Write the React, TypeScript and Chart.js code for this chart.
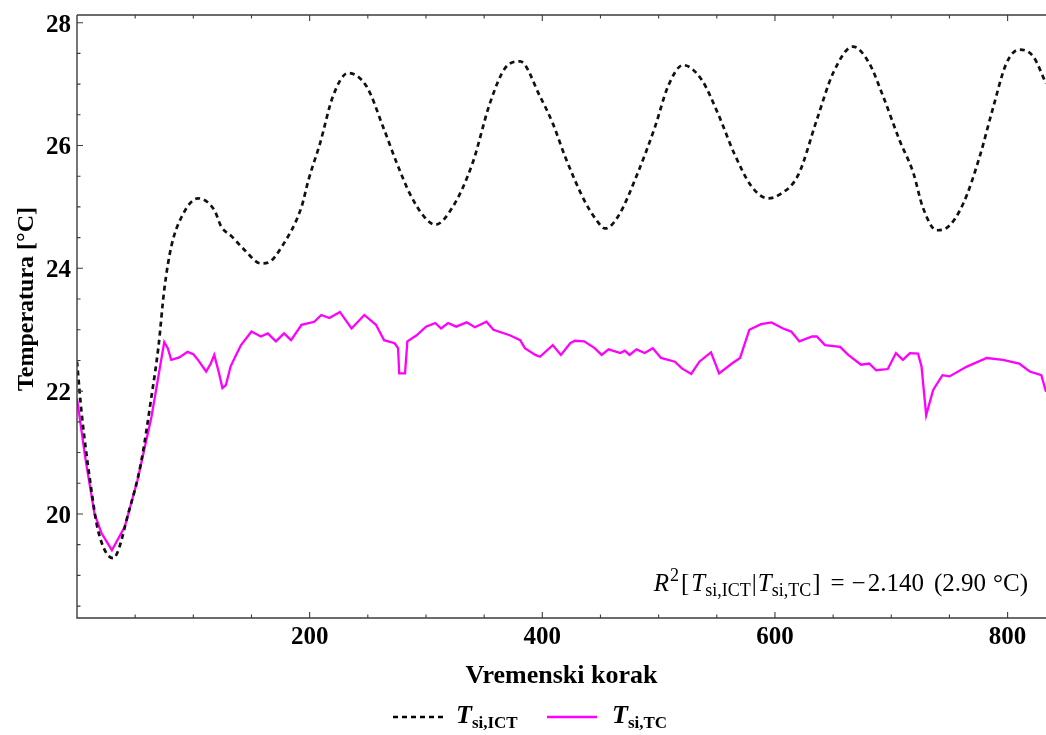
import React, { useEffect, useRef } from 'react';
import { Chart, registerables } from 'chart.js';

Chart.register(...registerables);

// ---- data ----
const ictSteps = [0, 4, 12, 18, 31, 45, 55, 64, 70, 75, 81, 90, 104, 118, 124, 133, 144, 158, 165, 176, 193, 199, 209, 220, 233, 249, 263, 275, 286, 298, 308, 323, 340, 355, 368, 381, 398, 409, 420, 436, 446, 454, 465, 482, 497, 508, 521, 537, 551, 565, 580, 594, 603, 620, 636, 650, 667, 681, 693, 707, 719, 727, 739, 747, 762, 776, 787, 799, 810, 822, 833];
const ictTemps = [22.48, 21.64, 20.44, 19.74, 19.28, 20.07, 20.83, 21.91, 22.72, 23.65, 24.35, 24.84, 25.14, 24.95, 24.68, 24.52, 24.3, 24.08, 24.1, 24.35, 25.0, 25.44, 26.04, 26.8, 27.18, 26.96, 26.31, 25.71, 25.22, 24.85, 24.71, 25.0, 25.71, 26.69, 27.26, 27.37, 26.8, 26.36, 25.8, 25.11, 24.8, 24.65, 24.84, 25.55, 26.31, 26.96, 27.31, 27.07, 26.52, 25.87, 25.33, 25.14, 25.19, 25.52, 26.42, 27.18, 27.61, 27.34, 26.8, 26.09, 25.55, 25.0, 24.62, 24.65, 25.06, 25.82, 26.58, 27.34, 27.56, 27.45, 27.01];

const tcSteps = [0, 7, 15, 21, 30, 41, 52, 64, 75, 78, 81, 88, 95, 100, 104, 111, 115, 118, 122, 125, 128, 132, 136, 141, 150, 158, 164, 171, 178, 184, 193, 204, 210, 217, 226, 236, 247, 257, 264, 273, 276, 277, 282, 284, 292, 300, 308, 313, 319, 326, 335, 342, 352, 358, 372, 381, 385, 394, 398, 409, 416, 424, 428, 436, 445, 451, 457, 467, 471, 475, 481, 488, 495, 502, 514, 520, 528, 535, 545, 552, 563, 570, 578, 588, 597, 607, 614, 621, 632, 636, 643, 656, 663, 674, 681, 687, 697, 704, 710, 716, 723, 726, 730, 736, 744, 750, 765, 782, 796, 810, 819, 829, 833];
const tcTemps = [21.88, 20.93, 20.01, 19.69, 19.41, 19.79, 20.55, 21.58, 22.8, 22.7, 22.51, 22.55, 22.64, 22.6, 22.51, 22.32, 22.45, 22.59, 22.3, 22.05, 22.1, 22.4, 22.56, 22.75, 22.97, 22.89, 22.94, 22.81, 22.94, 22.83, 23.08, 23.13, 23.24, 23.19, 23.29, 23.02, 23.24, 23.08, 22.83, 22.78, 22.7, 22.29, 22.29, 22.81, 22.91, 23.05, 23.11, 23.02, 23.11, 23.05, 23.12, 23.04, 23.13, 23.0, 22.91, 22.83, 22.7, 22.59, 22.56, 22.75, 22.59, 22.78, 22.82, 22.81, 22.7, 22.59, 22.68, 22.62, 22.66, 22.59, 22.68, 22.62, 22.7, 22.54, 22.48, 22.37, 22.28, 22.48, 22.63, 22.29, 22.45, 22.54, 23.0, 23.09, 23.12, 23.02, 22.97, 22.81, 22.89, 22.89, 22.75, 22.72, 22.59, 22.43, 22.45, 22.34, 22.36, 22.62, 22.51, 22.62, 22.61, 22.4, 21.61, 22.02, 22.26, 22.24, 22.4, 22.54, 22.51, 22.45, 22.32, 22.26, 21.99];

const xRange = [0, 833];
const yRange = [18.306, 28.125];
const xTickValues = [200, 400, 600, 800];
const yTickValues = [20, 22, 24, 26, 28];
const xMajorStep = 200;
const xMinorStep = 50;
const yMajorStep = 2;
const yMinorStep = 0.5;

const xTitle = 'Vremenski korak';
const yTitle = 'Temperatura [°C]';
const legendIct = ['T', 'si,ICT'];
const legendTc = ['T', 'si,TC'];
const r2Number = '2.140';
const r2Rmse = '(2.90';

const SERIF = '"Liberation Serif", "Times New Roman", serif';
const FRAME = '#3c3c3c';

type Run = { text: string; font: string; dy?: number; dx?: number };

function runsWidth(ctx: CanvasRenderingContext2D, runs: Run[]) {
  let w = 0;
  for (const r of runs) {
    ctx.font = r.font;
    w += (r.dx || 0) + ctx.measureText(r.text).width;
  }
  return w;
}

function drawRuns(ctx: CanvasRenderingContext2D, runs: Run[], x: number, y: number) {
  let cx = x;
  ctx.textAlign = 'left';
  ctx.textBaseline = 'alphabetic';
  for (const r of runs) {
    ctx.font = r.font;
    cx += r.dx || 0;
    ctx.fillText(r.text, cx, y + (r.dy || 0));
    cx += ctx.measureText(r.text).width;
  }
  return cx;
}

const framePlugin = {
  id: 'framePlugin',
  afterDraw(chart: any) {
    const { ctx, chartArea, scales } = chart;
    const { left, top, right, bottom } = chartArea;
    const xs = scales.x;
    const ys = scales.y;
    ctx.save();
    ctx.strokeStyle = FRAME;
    ctx.lineWidth = 1.4;
    ctx.beginPath();
    ctx.moveTo(left, top);
    ctx.lineTo(right + 2, top);
    ctx.moveTo(left, top);
    ctx.lineTo(left, bottom);
    ctx.lineTo(right + 2, bottom);
    ctx.stroke();

    ctx.lineWidth = 1.1;
    ctx.beginPath();
    for (let v = 0; v <= xRange[1]; v += xMinorStep) {
      const px = xs.getPixelForValue(v);
      if (px <= left + 1) continue;
      const len = v % xMajorStep === 0 ? 6 : 3.5;
      ctx.moveTo(px, bottom);
      ctx.lineTo(px, bottom - len);
      ctx.moveTo(px, top);
      ctx.lineTo(px, top + len);
    }
    for (let v = Math.ceil(yRange[0] / yMinorStep) * yMinorStep; v <= yRange[1]; v += yMinorStep) {
      const py = ys.getPixelForValue(v);
      const major = Math.abs(v / yMajorStep - Math.round(v / yMajorStep)) < 1e-6;
      const len = major ? 6 : 3.5;
      ctx.moveTo(left, py);
      ctx.lineTo(left + len, py);
    }
    ctx.stroke();

    // axis titles
    ctx.fillStyle = '#000';
    ctx.font = `bold 26px ${SERIF}`;
    ctx.textAlign = 'center';
    ctx.textBaseline = 'alphabetic';
    ctx.fillText(xTitle, (left + right) / 2, 683);

    ctx.save();
    ctx.translate(33, 299);
    ctx.rotate(-Math.PI / 2);
    ctx.font = `bold 24px ${SERIF}`;
    ctx.fillText(yTitle, 0, 0);
    ctx.restore();

    // legend
    const lgY = 717;
    ctx.lineWidth = 2.5;
    ctx.strokeStyle = '#000';
    ctx.setLineDash([5, 4]);
    ctx.beginPath();
    ctx.moveTo(393, lgY);
    ctx.lineTo(443, lgY);
    ctx.stroke();
    ctx.setLineDash([]);
    ctx.strokeStyle = '#ff00ff';
    ctx.beginPath();
    ctx.moveTo(547, lgY);
    ctx.lineTo(597, lgY);
    ctx.stroke();

    ctx.fillStyle = '#000';
    drawRuns(ctx, [
      { text: legendIct[0], font: `italic bold 26px ${SERIF}` },
      { text: legendIct[1], font: `bold 17px ${SERIF}`, dy: 5 },
    ], 456, 723);
    drawRuns(ctx, [
      { text: legendTc[0], font: `italic bold 26px ${SERIF}` },
      { text: legendTc[1], font: `bold 17px ${SERIF}`, dy: 5 },
    ], 612, 723);

    // R^2 annotation
    const main = `25px ${SERIF}`;
    const ital = `italic 25px ${SERIF}`;
    const sub = `18px ${SERIF}`;
    const runs: Run[] = [
      { text: 'R', font: ital },
      { text: '2', font: sub, dy: -10, dx: 1 },
      { text: '[', font: main, dx: 2 },
      { text: 'T', font: ital, dx: 2 },
      { text: 'si,ICT', font: sub, dy: 5 },
      { text: '|', font: main, dx: 1 },
      { text: 'T', font: ital, dx: 1 },
      { text: 'si,TC', font: sub, dy: 5 },
      { text: ']', font: main, dx: 1 },
      { text: '=', font: main, dx: 10 },
      { text: '−', font: main, dx: 7 },
      { text: r2Number, font: main, dx: 2 },
      { text: r2Rmse, font: main, dx: 10 },
      { text: '°C)', font: main, dx: 7 },
    ];
    const w = runsWidth(ctx, runs);
    drawRuns(ctx, runs, 1028 - w, 591);
    ctx.restore();
  },
};

export default function App() {
  const canvasRef = useRef<HTMLCanvasElement | null>(null);

  useEffect(() => {
    document.body.style.margin = '0';
    const canvas = canvasRef.current;
    if (!canvas) return;
    const ictData = ictSteps.map((s, i) => ({ x: s, y: ictTemps[i] }));
    const tcData = tcSteps.map((s, i) => ({ x: s, y: tcTemps[i] }));

    const chart = new Chart(canvas, {
      type: 'line',
      data: {
        datasets: [
          {
            label: 'T si,ICT',
            data: ictData,
            borderColor: '#111',
            borderWidth: 2.7,
            borderDash: [5, 4],
            pointRadius: 0,
            fill: false,
            cubicInterpolationMode: 'monotone',
          },
          {
            label: 'T si,TC',
            data: tcData,
            borderColor: '#ff00ff',
            borderWidth: 2.3,
            pointRadius: 0,
            fill: false,
            tension: 0,
          },
        ],
      },
      options: {
        animation: false,
        responsive: true,
        maintainAspectRatio: false,
        devicePixelRatio: 1,
        layout: { padding: { top: 15, right: 0, left: 0, bottom: 0 } },
        plugins: {
          legend: { display: false },
          tooltip: { enabled: false },
          title: { display: false },
        },
        scales: {
          x: {
            type: 'linear',
            min: xRange[0],
            max: xRange[1],
            grid: { display: false, drawTicks: false },
            border: { display: false },
            ticks: {
              maxRotation: 0,
              autoSkip: false,
              padding: 5,
              color: '#000',
              font: { family: SERIF, size: 25, weight: 'bold' },
              callback: (v: any) => String(v),
            },
            afterBuildTicks: (s: any) => {
              s.ticks = xTickValues.map((v) => ({ value: v }));
            },
            afterFit: (s: any) => {
              s.height = 117;
              s.paddingLeft = 0;
              s.paddingRight = 0;
            },
          },
          y: {
            type: 'linear',
            min: yRange[0],
            max: yRange[1],
            grid: { display: false, drawTicks: false },
            border: { display: false },
            ticks: {
              autoSkip: false,
              padding: 6,
              labelOffset: 2.5,
              color: '#000',
              font: { family: SERIF, size: 25, weight: 'bold' },
              callback: (v: any) => String(v),
            },
            afterBuildTicks: (s: any) => {
              s.ticks = yTickValues.map((v) => ({ value: v }));
            },
            afterFit: (s: any) => {
              s.width = 77;
              s.paddingTop = 0;
              s.paddingBottom = 0;
            },
          },
        },
      },
      plugins: [framePlugin],
    });
    return () => chart.destroy();
  }, []);

  return (
    <div style={{ position: 'fixed', left: 0, top: 0, width: 1046, height: 735, background: '#fff' }}>
      <canvas ref={canvasRef} />
    </div>
  );
}
